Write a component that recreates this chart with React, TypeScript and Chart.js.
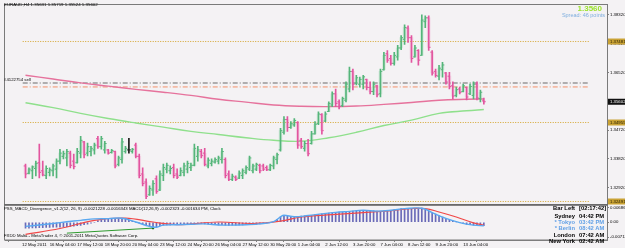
import React, { useEffect, useRef } from 'react';
import { Chart, registerables } from 'chart.js';

Chart.register(...registerables);

// ---------------- data (EURAUD, H4) ----------------
const barOpen = [
  1.3360, 1.3337, 1.3345, 1.3352, 1.3370, 1.3345, 1.3330, 1.3340, 1.3345, 1.3350,
  1.3375, 1.3390, 1.3385, 1.3400, 1.3375, 1.3370, 1.3400, 1.3435, 1.3400, 1.3405,
  1.3410, 1.3445, 1.3420, 1.3410, 1.3410, 1.3402, 1.3405, 1.3365, 1.3380, 1.3405,
  1.3410, 1.3405, 1.3425, 1.3390, 1.3335, 1.3310, 1.3270, 1.3285, 1.3320, 1.3285,
  1.3330, 1.3350, 1.3345, 1.3355, 1.3335, 1.3330, 1.3340, 1.3350, 1.3355, 1.3362,
  1.3390, 1.3405, 1.3400, 1.3360, 1.3368, 1.3372, 1.3375, 1.3380, 1.3380, 1.3335,
  1.3318, 1.3325, 1.3322, 1.3330, 1.3340, 1.3350, 1.3345, 1.3350, 1.3362, 1.3360,
  1.3355, 1.3348, 1.3360, 1.3380, 1.3410, 1.3465, 1.3505, 1.3480, 1.3488, 1.3495,
  1.3440, 1.3415, 1.3430, 1.3430, 1.3460, 1.3492, 1.3520, 1.3500, 1.3530, 1.3550,
  1.3585, 1.3560, 1.3548, 1.3565, 1.3600, 1.3655, 1.3618, 1.3615, 1.3615, 1.3630,
  1.3605, 1.3592, 1.3610, 1.3585, 1.3660, 1.3710, 1.3695, 1.3680, 1.3700, 1.3728,
  1.3755, 1.3790, 1.3760, 1.3700, 1.3720, 1.3705, 1.3810, 1.3822, 1.3715, 1.3655,
  1.3640, 1.3660, 1.3650, 1.3640, 1.3610, 1.3580, 1.3600, 1.3592, 1.3605, 1.3585,
  1.3580, 1.3615, 1.3570, 1.35631,
];
const barHigh = [
  1.3366, 1.3354, 1.3360, 1.3375, 1.3428, 1.3375, 1.3360, 1.3354, 1.3366, 1.3382,
  1.3412, 1.3406, 1.3412, 1.3406, 1.3397, 1.3415, 1.3452, 1.3437, 1.3431, 1.3421,
  1.3431, 1.3452, 1.3452, 1.3437, 1.3412, 1.3412, 1.3406, 1.3391, 1.3446, 1.3421,
  1.3446, 1.3415, 1.3431, 1.3397, 1.3354, 1.3320, 1.3298, 1.3314, 1.3329, 1.3345,
  1.3366, 1.3369, 1.3360, 1.3366, 1.3351, 1.3354, 1.3369, 1.3375, 1.3369, 1.3428,
  1.3421, 1.3412, 1.3415, 1.3385, 1.3382, 1.3385, 1.3391, 1.3415, 1.3385, 1.3345,
  1.3335, 1.3329, 1.3345, 1.3351, 1.3360, 1.3391, 1.3366, 1.3369, 1.3366, 1.3366,
  1.3360, 1.3366, 1.3391, 1.3400, 1.3477, 1.3514, 1.3514, 1.3498, 1.3508, 1.3498,
  1.3446, 1.3437, 1.3443, 1.3468, 1.3498, 1.3529, 1.3523, 1.3529, 1.3560, 1.3591,
  1.3600, 1.3566, 1.3575, 1.3622, 1.3668, 1.3662, 1.3643, 1.3637, 1.3643, 1.3631,
  1.3622, 1.3622, 1.3612, 1.3662, 1.3714, 1.3720, 1.3705, 1.3714, 1.3736, 1.3767,
  1.3800, 1.3797, 1.3767, 1.3736, 1.3723, 1.3831, 1.3828, 1.3828, 1.3720, 1.3662,
  1.3674, 1.3683, 1.3652, 1.3652, 1.3622, 1.3606, 1.3606, 1.3615, 1.3606, 1.3615,
  1.3622, 1.3622, 1.3597, 1.35719,
];
const barLow = [
  1.3323, 1.3335, 1.3320, 1.3329, 1.3323, 1.3329, 1.3320, 1.3329, 1.3329, 1.3323,
  1.3366, 1.3382, 1.3360, 1.3354, 1.3351, 1.3369, 1.3385, 1.3385, 1.3391, 1.3391,
  1.3397, 1.3415, 1.3412, 1.3400, 1.3397, 1.3400, 1.3354, 1.3360, 1.3369, 1.3400,
  1.3400, 1.3400, 1.3385, 1.3323, 1.3298, 1.3258, 1.3268, 1.3268, 1.3274, 1.3283,
  1.3314, 1.3338, 1.3335, 1.3323, 1.3320, 1.3329, 1.3329, 1.3338, 1.3345, 1.3360,
  1.3375, 1.3385, 1.3360, 1.3354, 1.3360, 1.3369, 1.3366, 1.3369, 1.3323, 1.3314,
  1.3314, 1.3314, 1.3320, 1.3320, 1.3335, 1.3345, 1.3338, 1.3345, 1.3338, 1.3345,
  1.3345, 1.3345, 1.3351, 1.3366, 1.3406, 1.3459, 1.3468, 1.3477, 1.3483, 1.3415,
  1.3415, 1.3406, 1.3391, 1.3428, 1.3459, 1.3489, 1.3459, 1.3498, 1.3529, 1.3545,
  1.3545, 1.3538, 1.3545, 1.3560, 1.3591, 1.3597, 1.3613, 1.3606, 1.3600, 1.3597,
  1.3585, 1.3582, 1.3575, 1.3575, 1.3659, 1.3683, 1.3674, 1.3674, 1.3690, 1.3723,
  1.3739, 1.3745, 1.3683, 1.3699, 1.3674, 1.3705, 1.3791, 1.3720, 1.3643, 1.3637,
  1.3628, 1.3637, 1.3615, 1.3600, 1.3569, 1.3575, 1.3585, 1.3591, 1.3566, 1.3582,
  1.3569, 1.3566, 1.3560, 1.35524,
];
const barClose = [
  1.3335, 1.3350, 1.3357, 1.3368, 1.3340, 1.3332, 1.3352, 1.3348, 1.3360, 1.3375,
  1.3400, 1.3398, 1.3405, 1.3362, 1.3358, 1.3405, 1.3440, 1.3395, 1.3420, 1.3415,
  1.3425, 1.3420, 1.3445, 1.3430, 1.3400, 1.3408, 1.3360, 1.3385, 1.3435, 1.3415,
  1.3410, 1.3412, 1.3390, 1.3330, 1.3305, 1.3265, 1.3290, 1.3305, 1.3280, 1.3335,
  1.3355, 1.3362, 1.3352, 1.3330, 1.3325, 1.3345, 1.3360, 1.3368, 1.3362, 1.3415,
  1.3410, 1.3392, 1.3365, 1.3378, 1.3375, 1.3380, 1.3385, 1.3405, 1.3330, 1.3318,
  1.3328, 1.3318, 1.3338, 1.3345, 1.3355, 1.3385, 1.3360, 1.3365, 1.3345, 1.3350,
  1.3348, 1.3362, 1.3385, 1.3395, 1.3470, 1.3505, 1.3480, 1.3492, 1.3502, 1.3425,
  1.3420, 1.3430, 1.3398, 1.3460, 1.3490, 1.3522, 1.3470, 1.3522, 1.3555, 1.3585,
  1.3555, 1.3545, 1.3570, 1.3615, 1.3655, 1.3615, 1.3635, 1.3630, 1.3638, 1.3605,
  1.3592, 1.3615, 1.3582, 1.3655, 1.3705, 1.3690, 1.3680, 1.3705, 1.3728, 1.3760,
  1.3792, 1.3760, 1.3695, 1.3728, 1.3690, 1.3815, 1.3822, 1.3730, 1.3650, 1.3642,
  1.3665, 1.3675, 1.3622, 1.3608, 1.3578, 1.3598, 1.3590, 1.3610, 1.3575, 1.3608,
  1.3615, 1.3572, 1.3590, 1.35602,
];

// moving averages (read at sampled bars)
const maSlowBars = [0, 8, 16, 24, 32, 40, 48, 56, 64, 72, 80, 88, 96, 104, 112, 120, 128, 133];
const maSlowValues = [1.3643, 1.3631, 1.3619, 1.3609, 1.3599, 1.3590, 1.3580, 1.3568, 1.3559, 1.3550, 1.3546, 1.3545, 1.3547, 1.3552, 1.3558, 1.3565, 1.3568, 1.3569];
const maFastBars = [0, 8, 16, 24, 32, 40, 48, 56, 64, 72, 80, 88, 96, 104, 112, 120, 128, 133];
const maFastValues = [1.3557, 1.3542, 1.3524, 1.3508, 1.3494, 1.3481, 1.3468, 1.3458, 1.3448, 1.3440, 1.3437, 1.3448, 1.3465, 1.3486, 1.3503, 1.3524, 1.3532, 1.3536];

// MACD sub-window
const macdHist = [
  -0.0028, -0.0028, -0.0027, -0.0027, -0.0026, -0.0026, -0.0025, -0.0025, -0.0024, -0.0024,
  -0.0023, -0.0022, -0.0021, -0.0020, -0.0019, -0.0017, -0.0015, -0.0012, -0.0009, -0.0005,
  0.0000, 0.0008, 0.0014, 0.0017, 0.0017, 0.0017, 0.0016, 0.0017, 0.0019, 0.0016,
  0.0010, 0.0006, 0.0000, -0.0005, -0.0010, -0.0015, -0.0020, -0.0024, -0.0024, -0.0017,
  -0.0014, -0.0013, -0.0013, -0.0012, -0.0012, -0.0011, -0.0011, -0.0010, -0.0010, -0.0008,
  -0.0007, -0.0007, -0.0008, -0.0009, -0.0011, -0.0012, -0.0013, -0.0012, -0.0014, -0.0015,
  -0.0014, -0.0014, -0.0013, -0.0013, -0.0012, -0.0011, -0.0011, -0.0010, -0.0008, -0.0005,
  -0.0003, 0.0000, 0.0003, 0.0014, 0.0026, 0.0033, 0.0029, 0.0026, 0.0026, 0.0028,
  0.0029, 0.0031, 0.0032, 0.0033, 0.0036, 0.0038, 0.0040, 0.0042, 0.0044, 0.0046,
  0.0047, 0.0048, 0.0049, 0.0051, 0.0052, 0.0053, 0.0055, 0.0056, 0.0057, 0.0056,
  0.0055, 0.0054, 0.0053, 0.0052, 0.0053, 0.0055, 0.0057, 0.0060, 0.0062, 0.0065,
  0.0065, 0.0066, 0.0066, 0.0066, 0.0067, 0.0067, 0.0060, 0.0053, 0.0046, 0.0039,
  0.0032, 0.0024, 0.0018, 0.0011, 0.0007, 0.0002, -0.0002, -0.0007, -0.0011, -0.0012,
  -0.0014, -0.0015, -0.0016, -0.0017,
];
const macdBlueBars = [0, 4, 8, 12, 16, 20, 24, 28, 32, 36, 38, 40, 44, 48, 52, 56, 60, 64, 68, 72, 74, 75, 78, 82, 86, 90, 94, 98, 102, 106, 110, 115, 118, 122, 126, 130, 133];
const macdBlueValues = [-0.0020, -0.0013, -0.0006, 0.0002, 0.0009, 0.0016, 0.0017, 0.0019, 0.0001, -0.0020, -0.0024, -0.0014, -0.0012, -0.0010, -0.0008, -0.0013, -0.0014, -0.0012, -0.0008, 0.0003, 0.0026, 0.0033, 0.0026, 0.0032, 0.0040, 0.0047, 0.0052, 0.0057, 0.0053, 0.0057, 0.0065, 0.0067, 0.0046, 0.0018, -0.0002, -0.0014, -0.0017];
const macdRedBars = [0, 10, 20, 29, 37, 44, 56, 66, 74, 80, 89, 98, 107, 112, 116, 120, 125, 130, 133];
const macdRedValues = [-0.0058, -0.0030, 0.0009, 0.0020, 0.0001, -0.0011, 0.0001, -0.0006, 0.0005, 0.0025, 0.0036, 0.0046, 0.0057, 0.0065, 0.0065, 0.0049, 0.0025, -0.0003, -0.0014];
const divergenceBars = [12, 37];
const divergenceValues = [-0.0052, -0.0028];

// horizontal levels
const goldLevels = [1.37481, 1.34955, 1.32491];
const orderSellPrice = 1.36187;
const orderStopPrice = 1.36064;
const bidPrice = 1.35602;

// axis ticks
const priceTicks = [1.3832, 1.3787, 1.3742, 1.3697, 1.3652, 1.3607, 1.3562, 1.3517, 1.3472, 1.3427, 1.3382, 1.3337, 1.3292, 1.3247];
const macdTicks = [0.006861, 0, -0.007127];
const macdTickLabels = ['0.006861', '0.00', '-0.007127'];
const timeLabelBars = [0, 8, 16, 24, 32, 40, 48, 56, 64, 72, 80, 88, 96, 104, 112, 120, 128];
const timeLabels = [
  '12 May 2011', '16 May 04:00', '17 May 12:00', '18 May 20:00', '20 May 04:00',
  '23 May 12:00', '24 May 20:00', '26 May 04:00', '27 May 12:00', '30 May 20:00',
  '1 Jun 04:00', '2 Jun 12:00', '3 Jun 20:00', '7 Jun 04:00', '8 Jun 12:00',
  '9 Jun 20:00', '13 Jun 04:00',
];

const clockRows = [
  { city: 'Bar Left', time: '[02:17:42]', color: '#000000', cy: 208.5 },
  { city: 'Sydney', time: '04:42 PM', color: '#000000', cy: 216.3 },
  { city: '* Tokyo', time: '03:42 PM', color: '#5f9fe6', cy: 222.8 },
  { city: '* Berlin', time: '08:42 AM', color: '#5f9fe6', cy: 229.2 },
  { city: 'London', time: '07:42 AM', color: '#000000', cy: 235.6 },
  { city: 'New York', time: '02:42 AM', color: '#000000', cy: 242.2 },
];

// ---------------- style ----------------
const FONT = '"Liberation Sans", Arial, sans-serif';
const UP = '#55b57a';
const DOWN = '#e2559f';
const DOJI = '#1a1a1a';
const UP_BODY = 'rgba(120,205,150,0.22)';
const DOWN_BODY = 'rgba(235,125,180,0.22)';
const X_MIN = -0.815;
const X_MAX = 163.6;

const overlayPlugin = {
  id: 'mt4overlay',
  afterDraw(chart: any) {
    const { ctx, chartArea } = chart;
    const y = chart.scales.y;
    const y2 = chart.scales.y2;
    ctx.save();
    ctx.strokeStyle = '#7a7a7a';
    ctx.lineWidth = 1;
    ctx.strokeRect(chartArea.left - 0.5, y.top - 0.5, chartArea.right - chartArea.left + 1, y.bottom - y.top + 1);
    ctx.strokeRect(chartArea.left - 0.5, y2.top + 0.5, chartArea.right - chartArea.left + 1, y2.bottom - y2.top - 0.5);
    ctx.lineWidth = 1.5;
    ctx.strokeStyle = '#6a6a6a';
    ctx.beginPath();
    ctx.moveTo(chartArea.left - 1, y.bottom + 0.25);
    ctx.lineTo(chartArea.right + 1, y.bottom + 0.25);
    ctx.stroke();

    const badge = (price: number, bg: string, fg: string) => {
      const py = y.getPixelForValue(price);
      ctx.fillStyle = bg;
      ctx.fillRect(chartArea.right + 1, py - 3, 20, 6);
      ctx.fillStyle = fg;
      ctx.font = `4.3px ${FONT}`;
      ctx.textBaseline = 'middle';
      ctx.textAlign = 'left';
      ctx.fillText(price.toFixed(5), chartArea.right + 3, py + 0.3);
    };
    goldLevels.forEach((p) => badge(p, '#c9a234', '#2a2000'));
    badge(bidPrice, '#111111', '#ffffff');
    ctx.restore();
  },
};

function Txt(props: any) {
  const { x, cy, size, color = '#000', bold = false, right = false, children } = props;
  const style: any = {
    position: 'absolute',
    top: cy - size * 0.64,
    fontSize: size,
    lineHeight: 1.2,
    fontFamily: FONT,
    fontWeight: bold ? 700 : 400,
    color,
    whiteSpace: 'nowrap',
  };
  if (right) style.right = 625 - x;
  else style.left = x;
  return <div style={style}>{children}</div>;
}

export default function App() {
  const ref = useRef<HTMLCanvasElement>(null);

  useEffect(() => {
    document.body.style.margin = '0';
    const idx = barOpen.map((_, i) => i);
    const colors = idx.map((i) => (barClose[i] > barOpen[i] ? UP : barClose[i] < barOpen[i] ? DOWN : DOJI));
    const bodyColors = idx.map((i) => (barClose[i] >= barOpen[i] ? UP_BODY : DOWN_BODY));
    const hLine = (price: number, color: string, dash: number[]) => ({
      type: 'line',
      yAxisID: 'y',
      data: [{ x: X_MIN, y: price }, { x: X_MAX, y: price }],
      borderColor: color,
      borderWidth: 1,
      borderDash: dash,
      pointRadius: 0,
    });

    const datasets: any[] = [
      {
        type: 'line', yAxisID: 'y2',
        data: macdBlueBars.map((b, k) => ({ x: b, y: macdBlueValues[k] })),
        borderColor: '#5aa8f0', borderWidth: 1.4, tension: 0.4, pointRadius: 0,
      },
      {
        type: 'line', yAxisID: 'y2',
        data: macdRedBars.map((b, k) => ({ x: b, y: macdRedValues[k] })),
        borderColor: '#f04848', borderWidth: 1.2, tension: 0.4, pointRadius: 0,
      },
      {
        type: 'line', yAxisID: 'y2',
        data: divergenceBars.map((b, k) => ({ x: b, y: divergenceValues[k] })),
        borderColor: '#2e9a2e', borderWidth: 1, pointRadius: [0, 1.3], pointBackgroundColor: '#1d6d1d', pointBorderWidth: 0,
      },
      {
        type: 'bar', yAxisID: 'y',
        data: idx.map((i) => ({ x: i, y: [barLow[i], barHigh[i]] })),
        backgroundColor: colors, barThickness: 1, grouped: false, borderWidth: 0,
      },
      {
        type: 'line', yAxisID: 'y', showLine: false,
        data: idx.map((i) => ({ x: i - 0.3, y: barOpen[i] })),
        pointStyle: 'line', pointRadius: 0.8, pointBorderWidth: 1, pointBorderColor: colors,
      },
      {
        type: 'line', yAxisID: 'y', showLine: false,
        data: idx.map((i) => ({ x: i + 0.3, y: barClose[i] })),
        pointStyle: 'line', pointRadius: 0.8, pointBorderWidth: 1, pointBorderColor: colors,
      },
      {
        type: 'bar', yAxisID: 'y',
        data: idx.map((i) => ({ x: i, y: [Math.min(barOpen[i], barClose[i]), Math.max(barOpen[i], barClose[i])] })),
        backgroundColor: bodyColors, barThickness: 3, grouped: false, borderWidth: 0,
      },
      {
        type: 'line', yAxisID: 'y',
        data: maSlowBars.map((b, k) => ({ x: b, y: maSlowValues[k] })),
        borderColor: '#e6729c', borderWidth: 1.4, tension: 0.4, pointRadius: 0,
      },
      {
        type: 'line', yAxisID: 'y',
        data: maFastBars.map((b, k) => ({ x: b, y: maFastValues[k] })),
        borderColor: '#8fe08c', borderWidth: 1.4, tension: 0.4, pointRadius: 0,
      },
      {
        type: 'bar', yAxisID: 'y2',
        data: idx.map((i) => ({ x: i, y: macdHist[i] })),
        backgroundColor: '#6a6ab8', barThickness: 1, grouped: false, borderWidth: 0,
      },
      ...goldLevels.map((p) => hLine(p, '#d4a52c', [1, 1.5])),
      hLine(orderSellPrice, '#6a6a6a', [5, 2, 1, 2]),
      hLine(orderStopPrice, '#f2906a', [5, 2, 1, 2]),
    ];

    const tickFont = { size: 4.3, family: FONT };
    const chart = new Chart(ref.current as HTMLCanvasElement, {
      type: 'bar',
      data: { datasets },
      options: {
        animation: false,
        responsive: false,
        maintainAspectRatio: false,
        events: [],
        layout: { padding: { left: 2, top: 2, right: 0, bottom: 0 } },
        plugins: { legend: { display: false }, tooltip: { enabled: false } },
        scales: {
          x: {
            type: 'linear', position: 'bottom', min: X_MIN, max: X_MAX,
            grid: { drawOnChartArea: false, tickLength: 2, color: '#808080' },
            border: { color: '#808080' },
            ticks: {
              autoSkip: false, maxRotation: 0, align: 'start', padding: 0.5,
              font: tickFont, color: '#000',
              callback: (_v: any, i: number) => timeLabels[i],
            },
            afterBuildTicks: (s: any) => { s.ticks = timeLabelBars.map((b) => ({ value: b - 1 })); },
            afterFit: (s: any) => { s.height = 8; s.paddingLeft = 0; s.paddingRight = 0; },
          },
          y: {
            type: 'linear', position: 'right', stack: 'panes', stackWeight: 202,
            min: 1.32399, max: 1.3862,
            grid: { drawOnChartArea: false, tickLength: 2, color: '#808080' },
            border: { color: '#808080' },
            ticks: { padding: 1, font: tickFont, color: '#000', callback: (v: any) => Number(v).toFixed(5) },
            afterBuildTicks: (s: any) => { s.ticks = priceTicks.map((v) => ({ value: v })); },
            afterFit: (s: any) => { s.width = 18; s.paddingTop = 0; s.paddingBottom = 0; },
          },
          y2: {
            type: 'linear', position: 'right', stack: 'panes', stackWeight: 36,
            min: -0.00848, max: 0.00848,
            grid: { drawOnChartArea: false, tickLength: 2, color: '#808080' },
            border: { color: '#808080' },
            ticks: { padding: 1, font: tickFont, color: '#000', callback: (_v: any, i: number) => macdTickLabels[i] },
            afterBuildTicks: (s: any) => { s.ticks = macdTicks.map((v) => ({ value: v })); },
            afterFit: (s: any) => { s.width = 18; s.paddingTop = 0; s.paddingBottom = 0; },
          },
        },
      } as any,
      plugins: [overlayPlugin],
    } as any);
    return () => chart.destroy();
  }, []);

  return (
    <div style={{ position: 'relative', width: 625, height: 248, background: '#f4f2f4', overflow: 'hidden' }}>
      <canvas ref={ref} width={625} height={248} style={{ position: 'absolute', left: 0, top: 0, width: 625, height: 248 }} />
      <Txt x={4} cy={5} size={4.4}>EURAUD,H4 1.35631 1.35719 1.35524 1.35602</Txt>
      <Txt x={602} cy={9.5} size={8} bold right color="#9be22e">1.3560</Txt>
      <Txt x={605} cy={15.5} size={5.5} right color="#7eaede">Spread: 46 points</Txt>
      <Txt x={4} cy={79.3} size={4.3}>#4122754 sell</Txt>
      <Txt x={4} cy={208.6} size={4.3}>PSS_MACD_Divergence_v1.2(12, 26, 9) -0.0021228 -0.0016343   MACD(12,26,9) -0.002323 -0.001634   PM, Clock</Txt>
      <Txt x={4} cy={235.5} size={4.3}>FXDD Malta - MetaTrader 4, © 2001-2011 MetaQuotes Software Corp.</Txt>
      {clockRows.map((r) => (
        <React.Fragment key={r.city}>
          <Txt x={575} cy={r.cy} size={5.8} bold right color={r.color}>{r.city}</Txt>
          <Txt x={579} cy={r.cy} size={5.8} bold color={r.color}>{r.time}</Txt>
        </React.Fragment>
      ))}
    </div>
  );
}
